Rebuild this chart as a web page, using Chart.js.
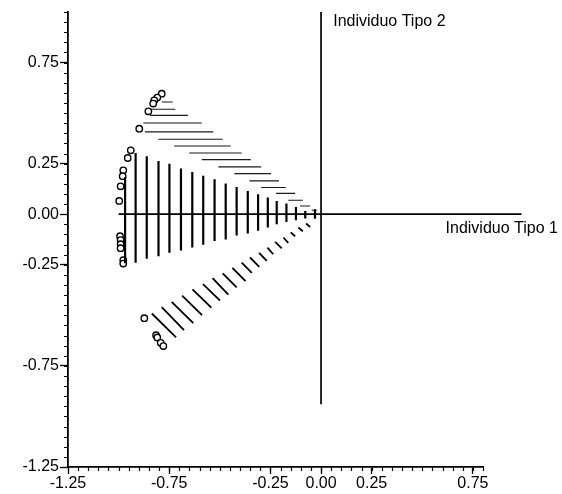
<!DOCTYPE html>
<html>
<head>
<meta charset="utf-8">
<script src="https://cdn.jsdelivr.net/npm/chart.js@4/dist/chart.umd.min.js"></script>
<style>
  html, body { margin: 0; padding: 0; background: #fff; }
  #wrap { width: 562px; height: 494px; }
</style>
</head>
<body>
<div id="wrap"><canvas id="c" width="562" height="494"></canvas></div>
<script>
// Tick labels on both axes
const xTickValues = [-1.25, -0.75, -0.25, 0.00, 0.25, 0.75];
const yTickValues = [-1.25, -0.75, -0.25, 0.00, 0.25, 0.75];

// Individuals (open circles), coordinates in the plane Tipo 1 / Tipo 2
const circleX = [-0.787, -0.809, -0.824, -0.829, -0.853, -0.898, -0.940, -0.955, -0.977, -0.980, -0.990, -0.997,
                 -0.993, -0.990, -0.990, -0.990, -0.977, -0.977,
                 -0.873, -0.815, -0.809, -0.792, -0.779];
const circleY = [0.596, 0.577, 0.563, 0.547, 0.509, 0.423, 0.316, 0.278, 0.217, 0.188, 0.138, 0.066,
                 -0.109, -0.128, -0.148, -0.168, -0.227, -0.244,
                 -0.514, -0.598, -0.609, -0.636, -0.652];

// Vertical strokes: position on Tipo 1, upper and lower end on Tipo 2
const vertX = [-0.968, -0.916, -0.861, -0.803, -0.749, -0.692, -0.636, -0.582, -0.526, -0.471,
               -0.417, -0.362, -0.311, -0.263, -0.219, -0.171, -0.124, -0.078, -0.030];
const vertTop = [0.184, 0.303, 0.287, 0.263, 0.250, 0.226, 0.209, 0.190, 0.173, 0.152,
                 0.135, 0.115, 0.099, 0.083, 0.066, 0.053, 0.036, 0.016, 0.025];
const vertBottom = [-0.242, -0.240, -0.220, -0.208, -0.190, -0.180, -0.165, -0.151, -0.133, -0.125,
                    -0.105, -0.095, -0.082, -0.066, -0.049, -0.038, -0.030, -0.021, -0.023];

// Horizontal strokes: level on Tipo 2, start and end on Tipo 1
const horizY = [0.555, 0.519, 0.489, 0.451, 0.407, 0.371, 0.337, 0.303, 0.270, 0.234,
                0.201, 0.165, 0.132, 0.103, 0.069, 0.041, 0.020];
const horizFrom = [-0.787, -0.845, -0.845, -0.878, -0.870, -0.804, -0.726, -0.651, -0.589, -0.507,
                   -0.428, -0.354, -0.296, -0.222, -0.162, -0.104, -0.046];
const horizTo = [-0.733, -0.720, -0.657, -0.589, -0.532, -0.486, -0.446, -0.392, -0.347, -0.296,
                 -0.247, -0.208, -0.174, -0.128, -0.090, -0.054, -0.021];

// Oblique strokes in the lower quadrant: start (x1, y1) and end (x2, y2)
const diagX1 = [-0.836, -0.787, -0.738, -0.686, -0.635, -0.583, -0.536, -0.486, -0.438,
                -0.392, -0.351, -0.306, -0.265, -0.227, -0.186, -0.150, -0.112, -0.074];
const diagY1 = [-0.491, -0.459, -0.433, -0.403, -0.372, -0.346, -0.316, -0.293, -0.265,
                -0.239, -0.214, -0.191, -0.165, -0.137, -0.115, -0.090, -0.066, -0.046];
const diagX2 = [-0.716, -0.677, -0.631, -0.588, -0.542, -0.499, -0.458, -0.417, -0.373,
                -0.342, -0.305, -0.268, -0.236, -0.194, -0.162, -0.128, -0.090, -0.054];
const diagY2 = [-0.609, -0.573, -0.539, -0.499, -0.462, -0.427, -0.398, -0.362, -0.331,
                -0.290, -0.260, -0.231, -0.198, -0.169, -0.142, -0.109, -0.084, -0.063];

// Reference axes of the two types
const axis1X = [-1.00, 0.99];
const axis2Y = [-0.94, 1.00];

// Build a broken polyline from separate segments (null breaks the line)
function segments(x1, y1, x2, y2) {
  const pts = [];
  for (let i = 0; i < x1.length; i++) {
    pts.push({x: x1[i], y: y1[i]}, {x: x2[i], y: y2[i]}, {x: x2[i], y: null});
  }
  return pts;
}

const vertData = segments(vertX, vertTop, vertX, vertBottom);
const horizData = segments(horizFrom, horizY, horizTo, horizY);
const diagData = segments(diagX1, diagY1, diagX2, diagY2);
const axesData = segments([axis1X[0], 0], [0, axis2Y[0]], [axis1X[1], 0], [0, axis2Y[1]]);
const circleData = circleX.map((x, i) => ({x, y: circleY[i]}));

const FONT = '"Liberation Sans", Arial, Helvetica, sans-serif';

const lineDefaults = {
  showLine: true, spanGaps: false, pointRadius: 0, pointHoverRadius: 0,
  borderColor: '#000', fill: false, tension: 0
};

// Small intermediate ticks every 0.05 on both axes, plus the type labels
const decorations = {
  id: 'decorations',
  afterDraw(chart) {
    const {ctx} = chart;
    const xs = chart.scales.x, ys = chart.scales.y;
    ctx.save();
    ctx.strokeStyle = '#000';
    ctx.lineWidth = 1.2;
    ctx.beginPath();
    for (let i = 0; i <= 41; i++) {
      const px = Math.round(xs.getPixelForValue(-1.25 + i * 0.05)) + 0.5;
      ctx.moveTo(px, ys.bottom);
      ctx.lineTo(px, ys.bottom + 4);
    }
    for (let i = 0; i <= 45; i++) {
      const py = Math.round(ys.getPixelForValue(-1.25 + i * 0.05)) + 0.5;
      ctx.moveTo(xs.left - 4, py);
      ctx.lineTo(xs.left, py);
    }
    ctx.stroke();

    ctx.fillStyle = '#000';
    ctx.font = '16px ' + FONT;
    ctx.textAlign = 'left';
    ctx.textBaseline = 'middle';
    ctx.fillText('Individuo Tipo 2', xs.getPixelForValue(0.06), ys.getPixelForValue(0.955));
    ctx.fillText('Individuo Tipo 1', xs.getPixelForValue(0.615), ys.getPixelForValue(-0.072));
    ctx.restore();
  }
};

new Chart(document.getElementById('c'), {
  type: 'scatter',
  data: {
    datasets: [
      Object.assign({}, lineDefaults, {label: 'ejes', data: axesData, borderWidth: 1.7, clip: false}),
      Object.assign({}, lineDefaults, {label: 'verticales', data: vertData, borderWidth: 2.2}),
      Object.assign({}, lineDefaults, {label: 'horizontales', data: horizData, borderWidth: 1.1, borderColor: '#1a1a1a'}),
      Object.assign({}, lineDefaults, {label: 'oblicuas', data: diagData, borderWidth: 1.8}),
      {
        label: 'individuos', data: circleData, showLine: false,
        pointStyle: 'circle', pointRadius: 3.2, pointHoverRadius: 3.2,
        borderWidth: 1.4, borderColor: '#000', backgroundColor: '#fff'
      }
    ]
  },
  options: {
    responsive: false,
    animation: false,
    devicePixelRatio: 1,
    layout: {padding: {top: 12, right: 79, left: 0, bottom: 0}},
    plugins: {legend: {display: false}, tooltip: {enabled: false}},
    scales: {
      x: {
        type: 'linear', min: -1.25, max: 0.80,
        afterBuildTicks: s => { s.ticks = xTickValues.map(v => ({value: v})); },
        afterFit: s => { s.height = 27; },
        ticks: {
          callback: v => Number(v).toFixed(2), autoSkip: false, maxRotation: 0,
          color: '#000', font: {family: FONT, size: 16}, padding: 0
        },
        grid: {drawOnChartArea: false, drawTicks: true, tickLength: 7, color: '#000', tickWidth: 1.3},
        border: {display: true, color: '#000', width: 1.8}
      },
      y: {
        type: 'linear', min: -1.25, max: 1.00,
        afterBuildTicks: s => { s.ticks = yTickValues.map(v => ({value: v})); },
        afterFit: s => { s.width = 68; },
        ticks: {
          callback: v => Number(v).toFixed(2), autoSkip: false,
          color: '#000', font: {family: FONT, size: 16}, padding: 1
        },
        grid: {drawOnChartArea: false, drawTicks: true, tickLength: 8, color: '#000', tickWidth: 1.3},
        border: {display: true, color: '#000', width: 1.8}
      }
    }
  },
  plugins: [decorations]
});
</script>
</body>
</html>
